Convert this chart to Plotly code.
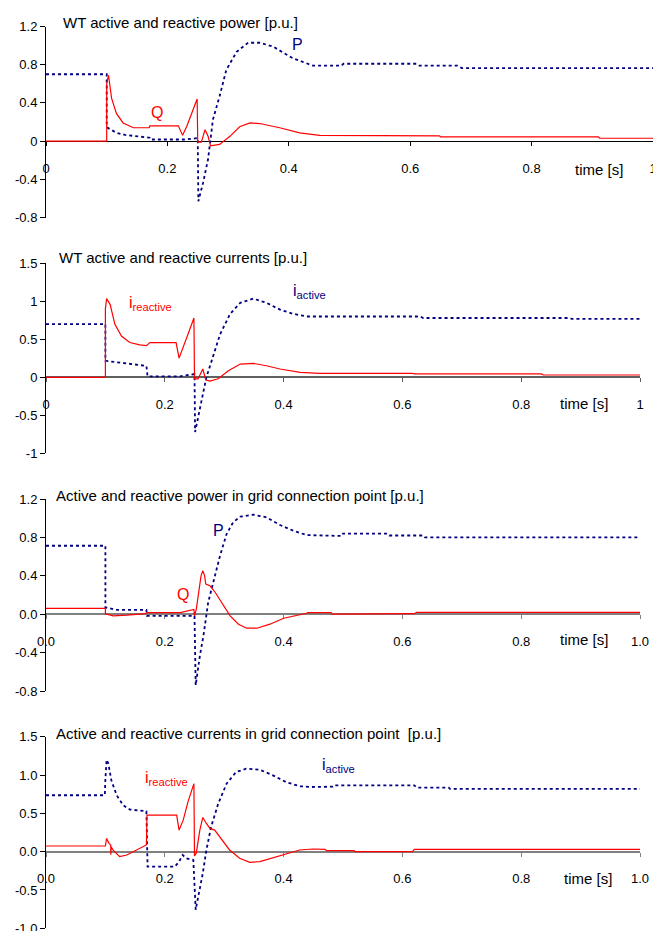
import plotly.graph_objects as go

# ---------------- data ----------------
# Panel 1: WT active and reactive power [p.u.]
t_p1 = [0, 0.1, 0.1, 0.116, 0.13, 0.149, 0.171, 0.172, 0.23, 0.248, 0.25, 0.251, 0.259, 0.267,
        0.275, 0.286, 0.297, 0.314, 0.333, 0.352, 0.374, 0.407, 0.44, 0.487, 0.49, 0.61, 0.615,
        0.678, 0.685, 1.0]
p1 = [0.7, 0.7, 0.145, 0.087, 0.065, 0.052, 0.035, 0.017, 0.017, 0.03, 0.03, -0.63, -0.43, -0.19,
      0.225, 0.47, 0.745, 0.935, 1.03, 1.03, 0.99, 0.866, 0.79, 0.79, 0.81, 0.81, 0.79,
      0.79, 0.765, 0.765]
t_q1 = [0, 0.1, 0.1, 0.103, 0.108, 0.116, 0.127, 0.144, 0.17, 0.171, 0.218, 0.225, 0.232, 0.24,
        0.249, 0.25, 0.256, 0.262, 0.267, 0.271, 0.286, 0.303, 0.319, 0.336, 0.352, 0.385, 0.418,
        0.451, 0.596, 0.6, 0.648, 0.65, 0.91, 0.912, 1.0]
q1 = [0, 0, 0.6, 0.69, 0.45, 0.29, 0.19, 0.14, 0.14, 0.16, 0.16, 0.06, 0.156, 0.294,
      0.44, -0.01, -0.01, 0.12, 0.05, -0.05, -0.035, 0.05, 0.15, 0.19, 0.184, 0.14, 0.087,
      0.06, 0.06, 0.055, 0.055, 0.045, 0.045, 0.03, 0.03]

# Panel 2: WT active and reactive currents [p.u.]
t_ia2 = [0, 0.1, 0.1, 0.13, 0.169, 0.171, 0.226, 0.248, 0.25, 0.251, 0.259, 0.265, 0.27, 0.279,
         0.293, 0.31, 0.327, 0.349, 0.371, 0.394, 0.416, 0.439, 0.63, 0.635, 0.88, 0.885, 1.0]
ia2 = [0.7, 0.7, 0.217, 0.19, 0.15, 0.013, 0.013, 0.04, 0.04, -0.72, -0.43, -0.22, 0.0, 0.22,
       0.565, 0.835, 0.98, 1.035, 0.98, 0.89, 0.835, 0.80, 0.80, 0.78, 0.78, 0.77, 0.77]
t_ir2 = [0, 0.1, 0.1, 0.102, 0.108, 0.116, 0.127, 0.141, 0.158, 0.169, 0.175, 0.219, 0.224, 0.231,
         0.24, 0.249, 0.25, 0.256, 0.264, 0.269, 0.276, 0.29, 0.307, 0.327, 0.349, 0.371, 0.394,
         0.428, 0.461, 0.617, 0.62, 0.834, 0.837, 1.0]
ir2 = [0, 0, 0.9, 1.035, 0.957, 0.696, 0.543, 0.457, 0.426, 0.417, 0.457, 0.457, 0.252, 0.39,
       0.587, 0.78, -0.02, -0.02, 0.109, -0.035, -0.05, -0.02, 0.087, 0.174, 0.183, 0.152, 0.109,
       0.065, 0.052, 0.052, 0.045, 0.045, 0.03, 0.03]

# Panel 3: Active and reactive power in grid connection point [p.u.]
t_p3 = [0, 0.1, 0.1, 0.119, 0.169, 0.17, 0.25, 0.252, 0.259, 0.265, 0.273, 0.282, 0.293, 0.304,
        0.315, 0.327, 0.349, 0.371, 0.394, 0.416, 0.439, 0.498, 0.5, 0.575, 0.578, 0.635, 0.638, 1.0]
p3 = [0.713, 0.713, 0.07, 0.045, 0.045, -0.017, -0.017, -0.74, -0.435, -0.226, 0.122, 0.348, 0.609,
      0.835, 0.957, 1.016, 1.037, 1.009, 0.929, 0.87, 0.824, 0.815, 0.84, 0.84, 0.82, 0.82, 0.80, 0.80]
t_q3 = [0, 0.1, 0.1, 0.113, 0.136, 0.168, 0.17, 0.226, 0.249, 0.25, 0.253, 0.256, 0.261, 0.264,
        0.267, 0.269, 0.276, 0.285, 0.296, 0.31, 0.324, 0.338, 0.355, 0.377, 0.4, 0.422, 0.439,
        0.44, 0.48, 0.482, 0.6, 0.62, 0.624, 1.0]
q3 = [0.06, 0.06, 0.005, -0.017, -0.01, 0.005, 0.017, 0.017, 0.05, -0.017, 0.05, 0.19, 0.4, 0.452,
      0.4, 0.313, 0.296, 0.226, 0.122, -0.017, -0.104, -0.146, -0.146, -0.104, -0.042, -0.017, 0.01,
      0.017, 0.017, 0.0, 0.0, 0.005, 0.018, 0.018]

# Panel 4: Active and reactive currents in grid connection point [p.u.]
t_ia4 = [0, 0.099, 0.1, 0.102, 0.105, 0.11, 0.119, 0.13, 0.141, 0.158, 0.169, 0.171, 0.217, 0.224,
         0.23, 0.236, 0.245, 0.248, 0.252, 0.259, 0.264, 0.27, 0.278, 0.29, 0.304, 0.32, 0.337,
         0.36, 0.382, 0.404, 0.427, 0.449, 0.483, 0.485, 0.62, 0.624, 0.678, 0.68, 1.0]
ia4 = [0.736, 0.736, 0.95, 1.2, 1.147, 0.93, 0.736, 0.606, 0.55, 0.532, 0.528, -0.195, -0.195, -0.13,
       -0.043, -0.087, -0.108, -0.108, -0.758, -0.5, -0.28, 0.02, 0.325, 0.628, 0.887, 1.039, 1.082,
       1.069, 0.996, 0.909, 0.853, 0.844, 0.848, 0.866, 0.866, 0.835, 0.835, 0.818, 0.818]
t_ir4 = [0, 0.1, 0.102, 0.106, 0.109, 0.109, 0.11, 0.113, 0.124, 0.136, 0.152, 0.169, 0.17, 0.22,
         0.224, 0.231, 0.239, 0.249, 0.25, 0.253, 0.259, 0.264, 0.27, 0.276, 0.284, 0.295, 0.309,
         0.326, 0.343, 0.36, 0.382, 0.404, 0.427, 0.449, 0.47, 0.472, 0.519, 0.52, 0.617, 0.62, 1.0]
ir4 = [0.074, 0.074, 0.173, 0.108, 0.087, -0.04, 0.06, 0.02, -0.065, -0.043, 0.022, 0.087, 0.476, 0.476,
       0.281, 0.411, 0.649, 0.887, -0.056, -0.02, 0.281, 0.446, 0.368, 0.303, 0.281, 0.173, 0.022,
       -0.087, -0.139, -0.13, -0.078, -0.022, 0.022, 0.035, 0.03, 0.013, 0.013, 0.0, 0.0, 0.03, 0.03]

# tick labels
x_ticks = [0, 0.2, 0.4, 0.6, 0.8, 1.0]
x_text_a = ["0", "0.2", "0.4", "0.6", "0.8", "1"]
x_text_b = ["0.0", "0.2", "0.4", "0.6", "0.8", "1.0"]
y_ticks_pow = [-0.8, -0.4, 0, 0.4, 0.8, 1.2]
y_text_pow_a = ["-0.8", "-0.4", "0", "0.4", "0.8", "1.2"]
y_text_pow_b = ["-0.8", "-0.4", "0.0", "0.4", "0.8", "1.2"]
y_ticks_cur = [-1, -0.5, 0, 0.5, 1, 1.5]
y_text_cur_a = ["-1", "-0.5", "0", "0.5", "1", "1.5"]
y_text_cur_b = ["-1.0", "-0.5", "0.0", "0.5", "1.0", "1.5"]

titles = ["WT active and reactive power [p.u.]",
          "WT active and reactive currents [p.u.]",
          "Active and reactive power in grid connection point [p.u.]",
          "Active and reactive currents in grid connection point  [p.u.]"]

# ---------------- layout geometry ----------------
W, H = 653, 931
ML = 46
PW = W - ML
FONT = "Liberation Sans, Arial, sans-serif"
RED = "#FF0000"
BLUE = "#000080"


def xp(px):
    return (px - ML) / PW


def yp(py):
    return 1 - py / H


# (top px, bottom px, right px, yrange, xticktext, yticks, yticktext, zero line color, width)
panels = [
    (26.5, 217.5, 653, [-0.8, 1.2], x_text_a, y_ticks_pow, y_text_pow_a, "#000000", 1),
    (263.3, 453.3, 640, [-1.0, 1.5], x_text_a, y_ticks_cur, y_text_cur_a, "#606060", 1.5),
    (499.0, 691.0, 640, [-0.8, 1.2], x_text_b, y_ticks_pow, y_text_pow_b, "#808080", 2),
    (736.7, 928.3, 640, [-1.0, 1.5], x_text_b, y_ticks_cur, y_text_cur_b, "#808080", 2),
]

series = [
    ((t_p1, p1), (t_q1, q1)),
    ((t_ia2, ia2), (t_ir2, ir2)),
    ((t_p3, p3), (t_q3, q3)),
    ((t_ia4, ia4), (t_ir4, ir4)),
]

fig = go.Figure()
layout = dict(
    template="none",
    width=W, height=H, autosize=False,
    margin=dict(l=ML, r=0, t=0, b=0, pad=0, autoexpand=False),
    paper_bgcolor="white", plot_bgcolor="white",
    showlegend=False,
    font=dict(family=FONT, size=13, color="black"),
)

for i, (top, bot, right, yr, xtt, ytv, ytt, zc, zw) in enumerate(panels):
    k = "" if i == 0 else str(i + 1)
    ydom = [yp(bot), yp(top)]
    zero_pos = ydom[0] + (0 - yr[0]) / (yr[1] - yr[0]) * (ydom[1] - ydom[0])
    layout["xaxis" + k] = dict(
        domain=[0, xp(right)], range=[0, 1], anchor="free", position=zero_pos,
        showline=True, linecolor=zc, linewidth=zw, layer="below traces",
        ticks="outside", ticklen=4, tickcolor=zc, tickwidth=1,
        tickvals=x_ticks, ticktext=xtt, tickfont=dict(size=13, family=FONT, color="black"),
        ticklabelstandoff=11, automargin=False, ticklabeloverflow="allow",
        showgrid=False, zeroline=False, fixedrange=True,
    )
    layout["yaxis" + k] = dict(
        domain=ydom, range=yr, anchor="x" + k,
        showline=True, linecolor="#000000", linewidth=1,
        ticks="outside", ticklen=5, tickcolor="#000000", tickwidth=1,
        tickvals=ytv, ticktext=ytt, tickfont=dict(size=13, family=FONT, color="black"),
        automargin=False, ticklabeloverflow="allow",
        showgrid=False, zeroline=False, fixedrange=True,
    )
    (tb, vb), (tr, vr) = series[i]
    fig.add_trace(go.Scatter(x=tb, y=vb, mode="lines", xaxis="x" + k, yaxis="y" + k,
                             line=dict(color=BLUE, width=1.8, dash="3px,3px")))
    fig.add_trace(go.Scatter(x=tr, y=vr, mode="lines", xaxis="x" + k, yaxis="y" + k,
                             line=dict(color=RED, width=1.2)))

fig.update_layout(**layout)

ann = []
# panel titles
for (x, y), txt in zip([(61, 22), (57, 257), (54, 495), (54, 733)], titles):
    ann.append(dict(x=xp(x), y=yp(y), xref="paper", yref="paper", text=txt, showarrow=False,
                    xanchor="left", yanchor="middle", font=dict(size=15, family=FONT, color="black")))
# time [s]
for x, y in [(573, 169), (558, 403), (558, 639), (562, 878)]:
    ann.append(dict(x=xp(x), y=yp(y), xref="paper", yref="paper", text="time [s]", showarrow=False,
                    xanchor="left", yanchor="middle", font=dict(size=15, family=FONT, color="black")))
# series labels
labels = [
    (157, 112, "Q", RED, "center"),
    (297, 45, "P", BLUE, "center"),
    (127, 303, "i<sub>reactive</sub>", RED, "left"),
    (291, 291, "i<sub>active</sub>", BLUE, "left"),
    (218, 530, "P", BLUE, "center"),
    (183, 594, "Q", RED, "center"),
    (143, 778, "i<sub>reactive</sub>", RED, "left"),
    (320, 765, "i<sub>active</sub>", BLUE, "left"),
]
for x, y, txt, col, xa in labels:
    ann.append(dict(x=xp(x), y=yp(y), xref="paper", yref="paper", text=txt, showarrow=False,
                    xanchor=xa, yanchor="middle", font=dict(size=16, family=FONT, color=col)))

fig.update_layout(annotations=ann)
fig.write_html(
    "out.html",
    config={"displayModeBar": False},
    post_script="document.body.style.margin='0px';document.body.style.overflow='hidden';",
)
